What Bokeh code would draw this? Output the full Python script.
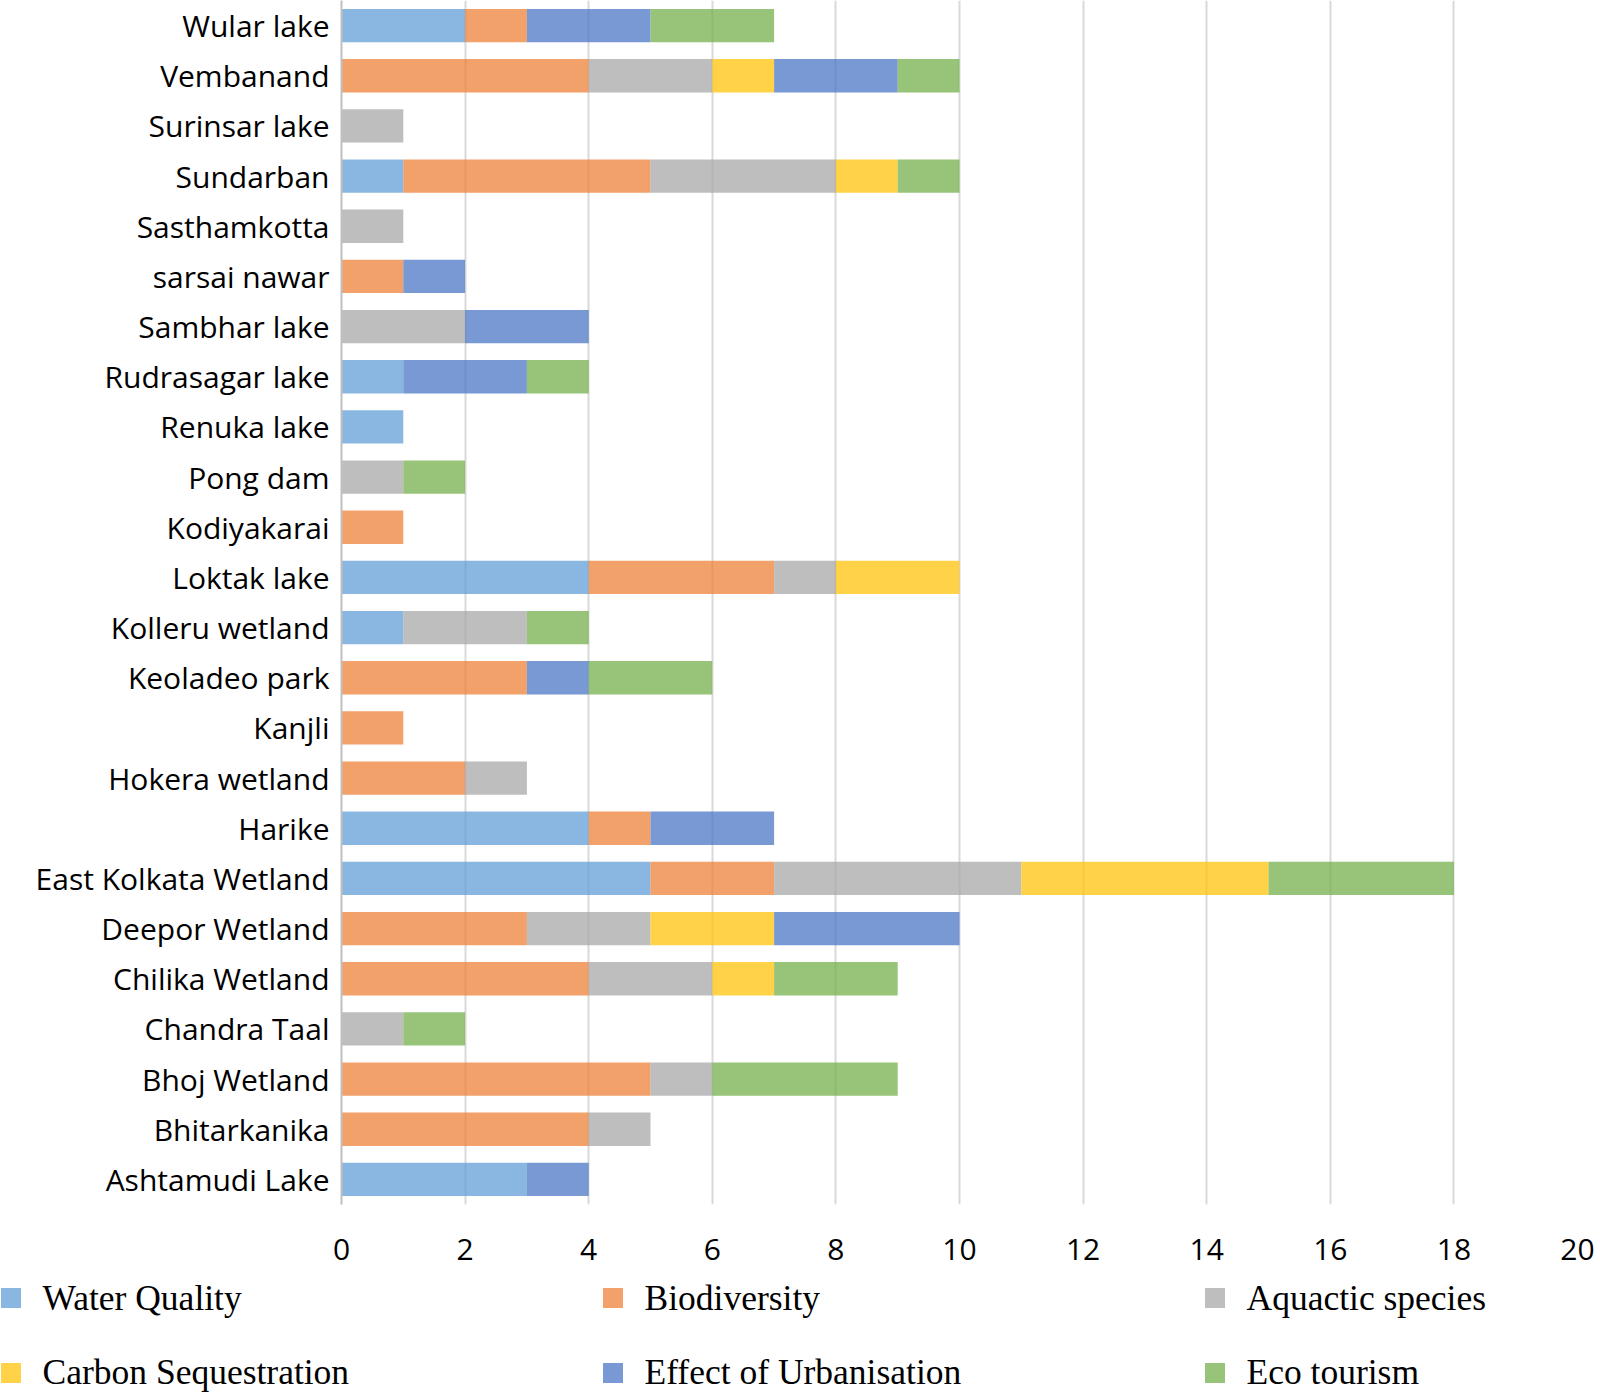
from bokeh.plotting import figure
from bokeh.models import FactorRange, Range1d, SingleIntervalTicker, ColumnDataSource, Legend, LegendItem
from bokeh.embed import file_html
from bokeh.resources import INLINE

# Categories, listed bottom to top
wetlands = ["Ashtamudi Lake", "Bhitarkanika", "Bhoj Wetland", "Chandra Taal", "Chilika Wetland",
            "Deepor Wetland", "East Kolkata Wetland", "Harike", "Hokera wetland", "Kanjli",
            "Keoladeo park", "Kolleru wetland", "Loktak lake", "Kodiyakarai", "Pong dam",
            "Renuka lake", "Rudrasagar lake", "Sambhar lake", "sarsai nawar", "Sasthamkotta",
            "Sundarban", "Surinsar lake", "Vembanand", "Wular lake"]

water_quality   = [3, 0, 0, 0, 0, 0, 5, 4, 0, 0, 0, 1, 4, 0, 0, 1, 1, 0, 0, 0, 1, 0, 0, 2]
biodiversity    = [0, 4, 5, 0, 4, 3, 2, 1, 2, 1, 3, 0, 3, 1, 0, 0, 0, 0, 1, 0, 4, 0, 4, 1]
aquatic_species = [0, 1, 1, 1, 2, 2, 4, 0, 1, 0, 0, 2, 1, 0, 1, 0, 0, 2, 0, 1, 3, 1, 2, 0]
carbon_seq      = [0, 0, 0, 0, 1, 2, 4, 0, 0, 0, 0, 0, 2, 0, 0, 0, 0, 0, 0, 0, 1, 0, 1, 0]
urbanisation    = [1, 0, 0, 0, 0, 3, 0, 2, 0, 0, 1, 0, 0, 0, 0, 0, 2, 2, 1, 0, 0, 0, 2, 2]
eco_tourism     = [0, 0, 3, 1, 2, 0, 3, 0, 0, 0, 2, 1, 0, 0, 1, 0, 1, 0, 0, 0, 1, 0, 1, 2]

series_names = ["Water Quality", "Biodiversity", "Aquactic species",
                "Carbon Sequestration", "Effect of Urbanisation", "Eco tourism"]
series_keys = ["wq", "bio", "aq", "cs", "urb", "eco"]
colors = ["#5B9BD5", "#ED7D31", "#A5A5A5", "#FFC000", "#4472C4", "#70AD47"]
ALPHA = 0.72

source = ColumnDataSource(dict(
    wetland=wetlands, wq=water_quality, bio=biodiversity, aq=aquatic_species,
    cs=carbon_seq, urb=urbanisation, eco=eco_tourism))

p = figure(width=1600, height=1268, output_backend="svg", toolbar_location=None,
           y_range=FactorRange(factors=wetlands, range_padding=0),
           x_range=Range1d(0, 20),
           min_border_left=341, min_border_right=23, min_border_top=0, min_border_bottom=64)

p.hbar_stack(series_keys, y="wetland", height=0.665, source=source,
             fill_color=colors, fill_alpha=ALPHA, line_color=None)

p.outline_line_color = None
p.background_fill_color = "white"
p.border_fill_color = "white"

# grid
p.ygrid.grid_line_color = None
p.xgrid.grid_line_color = "#D9D9D9"
p.xgrid.grid_line_width = 2
p.xaxis.ticker = SingleIntervalTicker(interval=2)

# x axis
p.xaxis.axis_line_color = None
p.xaxis.major_tick_line_color = None
p.xaxis.minor_tick_line_color = None
p.xaxis.major_label_text_font = "Open Sans"
p.xaxis.major_label_text_font_size = "30px"
p.xaxis.major_label_text_color = "#000000"
p.xaxis.major_label_standoff = 28

# y axis
p.yaxis.axis_line_color = "#BFBFBF"
p.yaxis.axis_line_width = 2
p.yaxis.major_tick_line_color = None
p.yaxis.minor_tick_line_color = None
p.yaxis.major_label_text_font = "Open Sans"
p.yaxis.major_label_text_font_size = "30px"
p.yaxis.major_label_text_color = "#000000"
p.yaxis.major_label_standoff = 6

# legend strip below the chart (separate root so its frame spans the full width)
lp = figure(width=1600, height=125, output_backend="svg", toolbar_location=None,
            x_range=Range1d(0, 1), y_range=Range1d(0, 1),
            x_axis_location=None, y_axis_location=None,
            min_border_left=0, min_border_right=0, min_border_top=0, min_border_bottom=0)
lp.outline_line_color = None
lp.grid.visible = False
lp.background_fill_color = "white"
lp.border_fill_color = "white"

# zero-size proxy glyphs that only carry each series' style for the legend
swatches = [lp.hbar(y=[0], left=[0], right=[0], height=0, fill_color=c, fill_alpha=ALPHA, line_color=None)
            for c in colors]

legend_style = dict(orientation="horizontal", border_line_color=None, background_fill_alpha=0,
                    padding=0, margin=0, spacing=51,
                    glyph_width=25, glyph_height=25, label_height=25, label_width=506,
                    label_standoff=20,
                    label_text_font="Liberation Serif", label_text_font_size="35.5px",
                    label_text_color="#000000")

row1 = Legend(items=[LegendItem(label=series_names[i], renderers=[swatches[i]]) for i in range(3)],
              location=(-2.5, 74.5), **legend_style)
row2 = Legend(items=[LegendItem(label=series_names[i], renderers=[swatches[i]]) for i in range(3, 6)],
              location=(-2.5, 0), **legend_style)
lp.add_layout(row1)
lp.add_layout(row2)

open("out.html", "w").write(file_html([p, lp], INLINE))
